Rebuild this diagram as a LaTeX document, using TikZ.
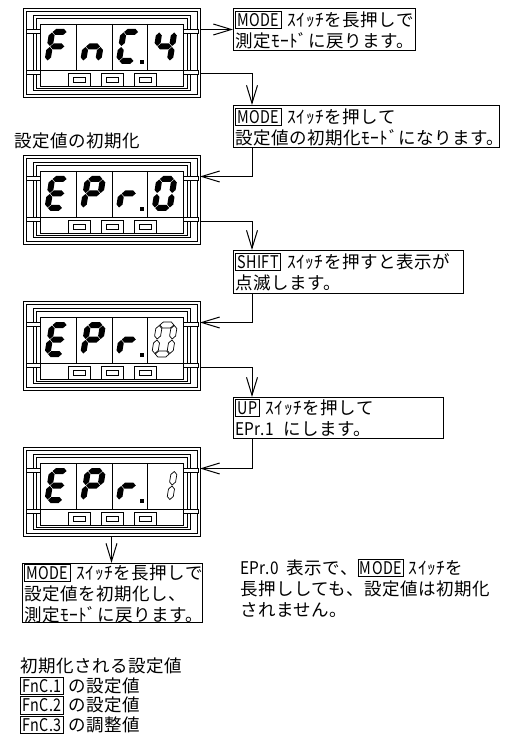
\documentclass[tikz,border=0pt]{standalone}
\usepackage{fontspec}
\setmainfont{Noto Sans CJK JP}[LetterSpace=3]
\usepackage{graphicx}
\usetikzlibrary{arrows.meta,positioning}

\setlength{\fboxsep}{1.5pt}
\setlength{\fboxrule}{0.9pt}
\newcommand{\lat}[1]{\scalebox{0.88}[1]{#1}}
\newcommand{\keycap}[1]{\fbox{\scalebox{0.82}[1]{#1}}}

% seven segment bars, upright, origin lower left, 21 x 35
\newcommand{\hsg}[4]{\path[#1] (#2+0.5,#4) -- (#2+3.5,#4+3) -- (#3-3.5,#4+3) -- (#3-0.5,#4) -- (#3-3.5,#4-3) -- (#2+3.5,#4-3) -- cycle;}
\newcommand{\vsg}[4]{\path[#1] (#2,#3+0.5) -- (#2+3,#3+3.5) -- (#2+3,#4-3.5) -- (#2,#4-0.5) -- (#2-3,#4-3.5) -- (#2-3,#3+3.5) -- cycle;}
\newcommand{\sgA}[1]{\hsg{#1}{3}{18}{32}}
\newcommand{\sgB}[1]{\vsg{#1}{18}{17.5}{32}}
\newcommand{\sgC}[1]{\vsg{#1}{18}{3}{17.5}}
\newcommand{\sgD}[1]{\hsg{#1}{3}{18}{3}}
\newcommand{\sgE}[1]{\vsg{#1}{3}{3}{17.5}}
\newcommand{\sgF}[1]{\vsg{#1}{3}{17.5}{32}}
\newcommand{\sgG}[1]{\hsg{#1}{3}{18}{17.5}}

% one digit: panel x, panel y, cell 0-3, style, segments
\newcommand{\digitcell}[5]{%
  \begin{scope}[shift={(#1+21+35.75*#3,#2+56)},yscale=-1,xslant=-0.16]
    \foreach \s in {#5} {\csname sg\s\endcsname{#4}}
  \end{scope}}
\newcommand{\digitdot}[3]{\fill (#1+17.5+35.75*#3+28,#2+52) rectangle ++(4,4);}

% the meter front: name, x, y
\newcommand{\meter}[3]{%
  \begin{scope}[shift={(#2,#3)},bezel]
    \draw (0,0) rectangle (177,89);
    \draw (3,3) rectangle (174,86);
    \draw (10,7) rectangle (167,82);
    \draw (13,10) rectangle (164,80);
    \draw[fill=white] (17.5,16) rectangle (160.5,78);
    \draw (17.5,62) -- (160.5,62);
    \foreach \cx in {53.25,89,124.75} \draw (\cx,16) -- (\cx,62);
    \foreach \tx in {3,160.5} {
      \draw[fill=white] (\tx,21) rectangle ++(14.5,4.5);
      \draw[fill=white] (\tx,62) rectangle ++(14.5,4.5);}
    \foreach \bx in {56,89,122} {
      \draw (\bx-11,65) rectangle (\bx+11,78);
      \draw (\bx-6,69) rectangle (\bx+6,74);}
    \coordinate (#1-in) at (177,21.5);
    \coordinate (#1-out) at (177,66);
    \coordinate (#1-bot) at (88.5,89);
  \end{scope}}

\tikzset{
  bezel/.style={line width=0.8pt},
  segon/.style={fill=black},
  segblink/.style={draw,line width=0.7pt,fill=white},
  note/.style={draw,line width=1.1pt,anchor=north west,align=left,
    inner xsep=1.5pt,inner ysep=0pt,text width=#1},
  plain/.style={inner sep=0pt,anchor=north west,align=left},
  arr/.style={line width=1pt,-{Straight Barb[length=18pt,width=11pt]}}
}

\begin{document}
\begin{tikzpicture}[x=1pt,y=-1pt,font=\fontsize{17.5}{21}\selectfont,line join=miter]
  \useasboundingbox (0,0) rectangle (504,743);

  % FnC.4
  \meter{p1}{23}{8}
  \digitcell{23}{8}{0}{segon}{A,E,F,G}
  \digitcell{23}{8}{1}{segon}{C,E,G}
  \digitcell{23}{8}{2}{segon}{A,D,E,F}
  \digitdot{23}{8}{2}
  \digitcell{23}{8}{3}{segon}{B,C,F,G}

  % EPr.0
  \meter{p2}{23}{155}
  \digitcell{23}{155}{0}{segon}{A,D,E,F,G}
  \digitcell{23}{155}{1}{segon}{A,B,E,F,G}
  \digitcell{23}{155}{2}{segon}{E,G}
  \digitdot{23}{155}{2}
  \digitcell{23}{155}{3}{segon}{A,B,C,D,E,F}

  % EPr.0 blinking
  \meter{p3}{23}{301}
  \digitcell{23}{301}{0}{segon}{A,D,E,F,G}
  \digitcell{23}{301}{1}{segon}{A,B,E,F,G}
  \digitcell{23}{301}{2}{segon}{E,G}
  \digitdot{23}{301}{2}
  \digitcell{23}{301}{3}{segblink}{A,B,C,D,E,F}

  % EPr.1 blinking
  \meter{p4}{23}{447}
  \digitcell{23}{447}{0}{segon}{A,D,E,F,G}
  \digitcell{23}{447}{1}{segon}{A,B,E,F,G}
  \digitcell{23}{447}{2}{segon}{E,G}
  \digitdot{23}{447}{2}
  \digitcell{23}{447}{3}{segblink}{B,C}

  \node[plain] (lbl) at (14,133) {設定値の初期化};

  \node[note=179pt,minimum height=42pt] (b1) at (233,8)
    {\keycap{MODE}~ｽｲｯﾁを長押しで\\測定ﾓｰﾄﾞに戻ります。};
  \node[note=263pt,minimum height=42pt] (b2) at (233,105)
    {\keycap{MODE}~ｽｲｯﾁを押して\\設定値の初期化ﾓｰﾄﾞになります。};
  \node[note=227pt,minimum height=43pt] (b3) at (233,250)
    {\keycap{SHIFT}~ｽｲｯﾁを押すと表示が\\点滅します。};
  \node[note=207pt,minimum height=41pt] (b4) at (233,397)
    {\keycap{UP}~ｽｲｯﾁを押して\\\lat{EPr.1}\hspace{10pt}にします。};
  \node[note=177pt,minimum height=58pt] (b5) at (22,563)
    {\keycap{MODE}~ｽｲｯﾁを長押しで\\設定値を初期化し、\\測定ﾓｰﾄﾞに戻ります。};

  \node[plain] (rmk) at (240,559)
    {\lat{EPr.0}\hspace{8pt}表示で、\keycap{MODE}~ｽｲｯﾁを\\長押ししても、設定値は初期化\\されません。};

  \node[plain,font=\fontsize{17.5}{19.5}\selectfont] (init) at (20,658)
    {初期化される設定値\\\keycap{FnC.1}~の設定値\\\keycap{FnC.2}~の設定値\\\keycap{FnC.3}~の調整値};

  \draw[arr] (p1-in) -- (b1.west |- p1-in);
  \draw[arr] (p1-out) -| ([xshift=19pt]b2.north west);
  \draw[arr] ([xshift=19pt]b2.south west) |- (p2-in);
  \draw[arr] (p2-out) -| ([xshift=19pt]b3.north west);
  \draw[arr] ([xshift=19pt]b3.south west) |- (p3-in);
  \draw[arr] (p3-out) -| ([xshift=19pt]b4.north west);
  \draw[arr] ([xshift=19pt]b4.south west) |- (p4-in);
  \draw[arr] (p4-bot) -- (p4-bot |- b5.north);
\end{tikzpicture}
\end{document}
